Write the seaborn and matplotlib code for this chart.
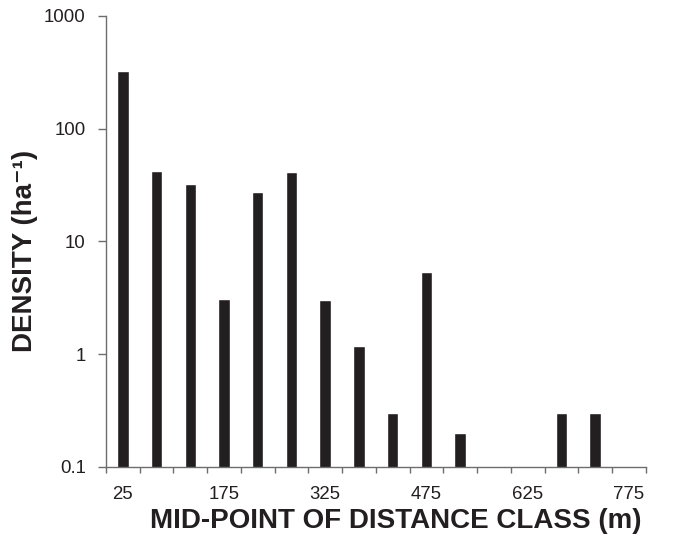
import numpy as np
import pandas as pd
import matplotlib
matplotlib.use("Agg")
import matplotlib.pyplot as plt
import seaborn as sns
from matplotlib.ticker import FixedLocator, NullLocator

midpoints = [25, 75, 125, 175, 225, 275, 325, 375, 425, 475, 525, 575, 625, 675, 725, 775]
density = [323, 42, 32, 3.1, 27.5, 41.5, 3.0, 1.18, 0.3, 5.4, 0.2, np.nan, np.nan, 0.3, 0.3, np.nan]
labelled = [25, 175, 325, 475, 625, 775]
yticks = [0.1, 1, 10, 100, 1000]
ytick_labels = ["0.1", "1", "10", "100", "1000"]

df = pd.DataFrame({"mid": [str(m) for m in midpoints], "density": density})

sns.set_theme(style="white")
plt.rcParams["font.family"] = ["Liberation Sans", "DejaVu Sans"]

fig = plt.figure(figsize=(6.79, 5.46), dpi=100)
ax = fig.add_axes([0.156, 0.1447, 0.795, 0.8266])

sns.barplot(data=df, x="mid", y="density", order=[str(m) for m in midpoints],
            color="#231f20", width=0.34, saturation=1, ax=ax, errorbar=None)

ax.set_yscale("log")
ax.set_ylim(0.1, 1000)
ax.yaxis.set_major_locator(FixedLocator(yticks))
ax.set_yticklabels(ytick_labels)
ax.yaxis.set_minor_locator(NullLocator())
ax.set_xlim(-0.5, len(midpoints) - 0.5)

ax.set_xticks(range(len(midpoints)))
ax.set_xticklabels([str(m) if m in labelled else "" for m in midpoints])
ax.set_xticks(np.arange(-0.5, len(midpoints), 1.0), minor=True)

tick_color = "#231f20"
spine_color = "#6d6d6d"
ax.tick_params(axis="x", which="major", length=0, pad=13.5, labelsize=13.4, colors=tick_color)
ax.tick_params(axis="x", which="minor", length=4, width=1, color=spine_color, direction="out", bottom=True)
ax.tick_params(axis="y", which="major", length=6, width=1, color=spine_color, labelsize=13.4,
               labelcolor=tick_color, direction="out", left=True, pad=8.5)

for s in ["top", "right"]:
    ax.spines[s].set_visible(False)
for s in ["left", "bottom"]:
    ax.spines[s].set_color(spine_color)
    ax.spines[s].set_linewidth(1)

ax.set_xlabel("MID-POINT OF DISTANCE CLASS (m)", fontsize=20, fontweight="bold",
              color=tick_color, labelpad=4)
ax.set_ylabel("DENSITY (ha\u207b\u00b9)", fontsize=20, fontweight="bold",
              color=tick_color, labelpad=4)
ax.xaxis.label.set_x(0.537)
ax.yaxis.label.set_y(0.479)

fig.savefig("out.png", dpi=100)
